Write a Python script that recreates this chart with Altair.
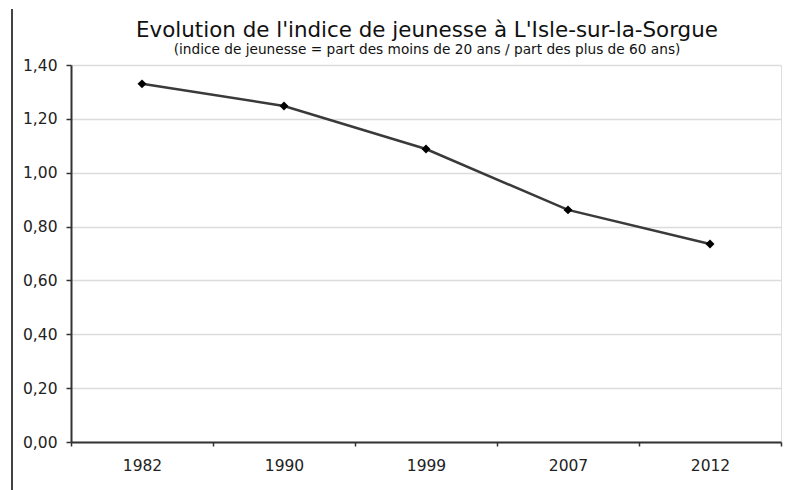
import altair as alt
import pandas as pd

years = ["1982", "1990", "1999", "2007", "2012"]
values = [1.33, 1.248, 1.088, 0.862, 0.735]
title_text = "Evolution de l'indice de jeunesse à L'Isle-sur-la-Sorgue"
subtitle_text = "(indice de jeunesse = part des moins de 20 ans / part des plus de 60 ans)"

df = pd.DataFrame({"annee": years, "indice": values})
tdf = pd.DataFrame({"t": [title_text], "s": [subtitle_text]})

FONT = "DejaVu Sans"

x = alt.X(
    "annee:O",
    sort=years,
    bandPosition=0.5,
    scale=alt.Scale(type="band", paddingInner=0, paddingOuter=0),
    axis=alt.Axis(
        title=None,
        tickBand="extent",
        labelAngle=0,
        labelFont=FONT,
        labelFontSize=15.5,
        labelColor="#222222",
        labelPadding=12,
        tickSize=4,
        tickColor="#333333",
        domainColor="#333333",
        domainWidth=2,
        tickWidth=1.5,
        grid=False,
    ),
)
y = alt.Y(
    "indice:Q",
    scale=alt.Scale(domain=[0, 1.4], nice=False),
    axis=alt.Axis(
        title=None,
        values=[0, 0.2, 0.4, 0.6, 0.8, 1.0, 1.2, 1.4],
        labelExpr="replace(format(datum.value, '.2f'), '.', ',')",
        labelFont=FONT,
        labelFontSize=15.5,
        labelColor="#222222",
        labelPadding=9,
        tickSize=5,
        tickColor="#333333",
        tickWidth=1.5,
        domainColor="#333333",
        domainWidth=2,
        grid=True,
        gridColor="#dcdcdc",
        gridWidth=1.5,
    ),
)

line = alt.Chart(df).mark_line(color="#3a3a3a", strokeWidth=2.5).encode(x=x, y=y)
pts = alt.Chart(df).mark_point(
    shape="diamond", filled=True, color="#000000", size=80, opacity=1
).encode(x=x, y=y)

border = alt.Chart(tdf).mark_rule(color="#444444", strokeWidth=2).encode(
    x=alt.value(-59), y=alt.value(-56), y2=alt.value(440)
)

title = alt.Chart(tdf).mark_text(
    font=FONT, fontSize=21.4, color="#111111", align="center", baseline="alphabetic"
).encode(text="t:N", x=alt.value(356), y=alt.value(-28))
subtitle = alt.Chart(tdf).mark_text(
    font=FONT, fontSize=13.7, color="#111111", align="center", baseline="alphabetic"
).encode(text="s:N", x=alt.value(356), y=alt.value(-11))

chart = (
    alt.layer(border, line, pts, title, subtitle)
    .properties(
        width=710,
        height=377,
        autosize=alt.AutoSizeParams(type="none"),
        padding={"left": 63, "top": 57, "right": 3, "bottom": 48},
    )
    .configure_view(stroke=None)
    .configure(background="white")
)

chart.save("out.html", embed_options={"renderer": "svg", "actions": False})
